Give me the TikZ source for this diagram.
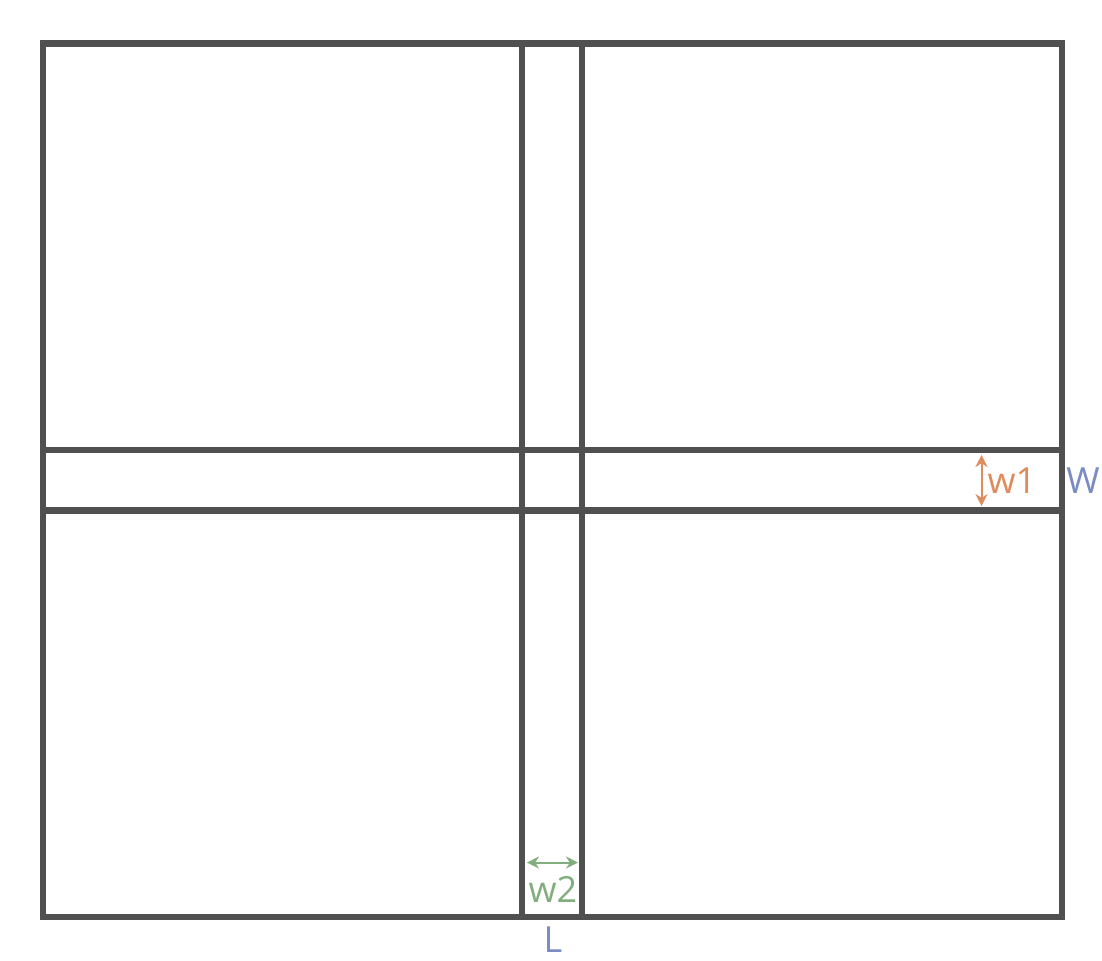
\documentclass[tikz,border=0pt]{standalone}
\usepackage{fontspec}
\setmainfont{Open Sans}
\usetikzlibrary{arrows.meta}
\definecolor{wallgray}{HTML}{505050}
\definecolor{wone}{HTML}{DE8C5C}
\definecolor{wtwo}{HTML}{82AE7E}
\definecolor{dimblue}{HTML}{7A8CC2}
\begin{document}
\begin{tikzpicture}[x=0.5pt,y=-0.5pt,
        wall/.style={draw=wallgray,line width=3.3pt},
        dim/.style={{Stealth[length=6pt,width=6pt]}-{Stealth[length=6pt,width=6pt]},line width=1pt},
        lbl/.style={font=\fontsize{18}{21}\selectfont,inner sep=0pt}]
        \useasboundingbox (0,0) rectangle (1102,960);
        % walls
        \draw[wall] (43,43.5) rectangle (1062,917);
        \draw[wall] (522,43.5) -- (522,917);
        \draw[wall] (582,43.5) -- (582,917);
        \draw[wall] (43,450) -- (1062,450);
        \draw[wall] (43,510.5) -- (1062,510.5);

        % coordinates
        \coordinate (w1top) at (981.5,455);
        \coordinate (w1bot) at (981.5,506);
        \coordinate (w2left) at (527,862.5);
        \coordinate (w2right) at (578,862.5);

        % arrows
        \draw[dim,wone] (w1top) -- (w1bot);
        \draw[dim,wtwo] (w2left) -- (w2right);

        % labels
        \node[lbl,text=wone] (w1) at (1012,481) {w1};
        \node[lbl,text=dimblue] (W) at (1083,481) {W};
        \node[lbl,text=wtwo] (w2) at (553,889) {w2};
        \node[lbl,text=dimblue] (L) at (553,940) {L};
      \end{tikzpicture}
\end{document}
